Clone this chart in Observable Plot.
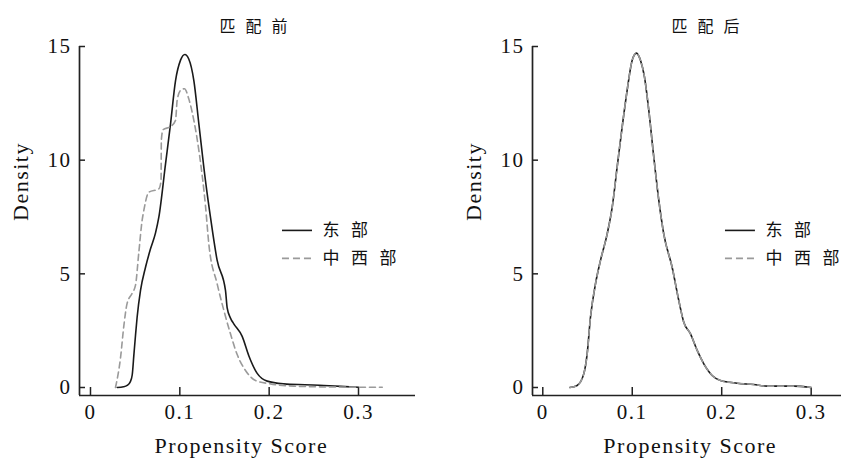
<!DOCTYPE html>
<html><head><meta charset="utf-8">
<script src="https://cdn.jsdelivr.net/npm/d3@7"></script>
<script src="https://cdn.jsdelivr.net/npm/@observablehq/plot@0.6"></script>
<style>
body{margin:0;background:#fff;}
#wrap{display:flex;width:841px;height:459px;overflow:hidden;}
</style></head><body><div id="wrap"></div>
<script>
const panelTitles = ["匹配前", "匹配后"];
const seriesNames = ["东部", "中西部"];
const xTicks = [0, 0.1, 0.2, 0.3];
const yTicks = [0, 5, 10, 15];
const xLabel = "Propensity Score";
const yLabel = "Density";

// 匹配前 — 东部
const beforeEastX = [0.0299,0.037,0.041,0.0445,0.0467,0.0485,0.0504,0.0522,0.056,0.0616,0.0672,0.0728,0.0765,0.084,0.0896,0.0952,0.1008,0.1056,0.110,0.1157,0.1213,0.1287,0.1343,0.1418,0.1511,0.153,0.1567,0.1604,0.1698,0.1772,0.1866,0.1978,0.2164,0.240,0.2612,0.280,0.300];
const beforeEastY = [0,0.03,0.09,0.25,0.55,1.4,2.3,3.09,4.27,5.29,6.1,6.8,7.49,9.84,11.6,13.5,14.4,14.65,14.45,13.5,11.6,9.1,7.49,5.59,4.27,3.5,3.05,2.8,2.25,1.4,0.62,0.28,0.16,0.12,0.09,0.05,0.01];
// 匹配前 — 中西部
const beforeWestX = [0.028,0.0336,0.0373,0.041,0.0467,0.0504,0.054,0.0578,0.0597,0.0653,0.0765,0.079,0.0793,0.0812,0.0896,0.0952,0.097,0.1008,0.1052,0.110,0.1157,0.1213,0.1287,0.1325,0.1418,0.1493,0.1567,0.1642,0.1735,0.1847,0.2015,0.2276,0.2426,0.280,0.3266];
const beforeWestY = [0,1.3,2.7,3.7,4.15,4.5,5.9,7.35,7.79,8.59,8.74,9.1,10.87,11.34,11.48,11.75,12.63,13.07,13.14,12.7,11.75,10.43,8.0,6.3,4.56,3.39,2.36,1.45,0.75,0.31,0.16,0.06,0.04,0.02,0.01];
// 匹配后 — 东部 / 中西部 (overlapping)
const afterEastX = [0.0302,0.0384,0.0458,0.0496,0.0533,0.0589,0.0645,0.072,0.0776,0.0831,0.0887,0.0943,0.0999,0.1047,0.1092,0.1137,0.1185,0.1241,0.1297,0.1352,0.1446,0.152,0.1576,0.1651,0.1726,0.180,0.1893,0.1986,0.2173,0.2358,0.2508,0.2806,0.300];
const afterEastY = [0,0.09,0.6,1.48,3.09,4.56,5.59,6.76,7.93,9.69,11.45,13.07,14.39,14.71,14.39,13.65,12.19,10.13,8.23,6.76,5.29,3.83,2.87,2.36,1.63,1.04,0.53,0.31,0.19,0.13,0.06,0.06,0.0];
const afterWestX = [0.0302,0.0384,0.0458,0.0496,0.0533,0.0589,0.0645,0.072,0.0776,0.0831,0.0887,0.0943,0.0999,0.1047,0.1092,0.1137,0.1185,0.1241,0.1297,0.1352,0.1446,0.152,0.1576,0.1651,0.1726,0.180,0.1893,0.1986,0.2173,0.2358,0.2508,0.2806,0.300];
const afterWestY = [0,0.09,0.6,1.48,3.09,4.56,5.59,6.76,7.93,9.69,11.45,13.07,14.39,14.71,14.39,13.65,12.19,10.13,8.23,6.76,5.29,3.83,2.87,2.36,1.63,1.04,0.53,0.31,0.19,0.13,0.06,0.06,0.0];

const serif = "'Liberation Serif', 'Times New Roman', serif";
const cjk = "'Noto Sans CJK SC', sans-serif";
const eastColor = "#1a1a1a", westColor = "#9a9a9a", axisColor = "#222";

function rows(xs, ys) { return xs.map((x, i) => ({x, y: ys[i]})); }

// spread characters with tspans (no trailing gap)
function spaceOut(el, sp) {
  const chars = [...el.text()];
  el.text(null);
  chars.forEach((c, i) => el.append("tspan").attr("dx", i ? sp : null).text(c));
}

function panel(cfg) {
  const {width, marginLeft, marginRight, xDomain, title, east, west, legend, titleDx, xLabelDx, yLabelDx} = cfg;
  const height = 459, marginTop = 46, marginBottom = 64;
  const yDomain = [-0.352, 15];
  const pxX = (width - marginLeft - marginRight) / (xDomain[1] - xDomain[0]);
  const pxY = (height - marginTop - marginBottom) / (yDomain[1] - yDomain[0]);
  const svg = Plot.plot({
    width, height, marginLeft, marginRight, marginTop, marginBottom,
    x: {domain: xDomain},
    y: {domain: yDomain},
    style: {fontFamily: serif, fontSize: "21px", color: "#111", background: "#fff", overflow: "visible"},
    marks: [
      Plot.axisX({ticks: xTicks, tickSize: 0, tickPadding: 9, label: null, tickFormat: d => String(d)}),
      Plot.axisY({ticks: yTicks, tickSize: 0, tickPadding: 8, label: null, tickFormat: d => String(d)}),
      Plot.ruleX([xDomain[0]], {stroke: axisColor, strokeWidth: 1.7}),
      Plot.ruleY([yDomain[0]], {stroke: axisColor, strokeWidth: 1.7}),
      Plot.ruleY(yTicks, {y: d => d, x1: xDomain[0], x2: xDomain[0] + 6 / pxX, stroke: axisColor, strokeWidth: 1.5}),
      Plot.ruleX(xTicks, {x: d => d, y1: yDomain[0], y2: yDomain[0] + 8 / pxY, stroke: axisColor, strokeWidth: 1.5}),
      Plot.line(east, {x: "x", y: "y", stroke: eastColor, strokeWidth: 1.6, curve: "monotone-x"}),
      Plot.line(west, {x: "x", y: "y", stroke: westColor, strokeWidth: 1.6, strokeDasharray: "6,4", curve: "monotone-x"}),
      Plot.ruleY([legend.y[0]], {x1: legend.x1, x2: legend.x2, stroke: eastColor, strokeWidth: 1.6}),
      Plot.ruleY([legend.y[1]], {x1: legend.x1, x2: legend.x2, stroke: westColor, strokeWidth: 1.6, strokeDasharray: "7,4"}),
      Plot.text(seriesNames, {x: legend.xText, y: (d, i) => legend.y[i], text: d => d, textAnchor: "start", fontFamily: cjk, fontSize: 17, fill: "#111"}),
      Plot.text([title], {text: d => d, frameAnchor: "top", dy: -26, dx: titleDx, fontFamily: cjk, fontSize: 16, fill: "#111"}),
      Plot.text([xLabel], {text: d => d, frameAnchor: "bottom", dy: 57, dx: xLabelDx, fontSize: 22, fill: "#111"}),
      Plot.text([yLabel], {text: d => d, frameAnchor: "left", dx: yLabelDx, rotate: -90, fontSize: 22, fill: "#111"})
    ]
  });
  d3.select(svg).selectAll("text").each(function() {
    const t = this.textContent;
    const el = d3.select(this);
    if (panelTitles.includes(t)) spaceOut(el, 10);
    else if (seriesNames.includes(t)) spaceOut(el, 11.5);
    else if (t === xLabel || t === yLabel) el.style("letter-spacing", "1.5px").style("font-family", serif);
    else el.style("letter-spacing", "1.5px").style("font-size", "21px").style("font-family", serif);
  });
  return svg;
}

const wrap = document.getElementById("wrap");
wrap.appendChild(panel({
  width: 420, marginLeft: 79, marginRight: 5, xDomain: [-0.0123, 0.3638],
  title: panelTitles[0], east: rows(beforeEastX, beforeEastY), west: rows(beforeWestX, beforeWestY),
  legend: {x1: 0.2149, x2: 0.2485, xText: 0.2597, y: [6.91, 5.68]},
  titleDx: 6, xLabelDx: -6.2, yLabelDx: -59
}));
wrap.appendChild(panel({
  width: 421, marginLeft: 112, marginRight: 0, xDomain: [-0.0115, 0.3339],
  title: panelTitles[1], east: rows(afterEastX, afterEastY), west: rows(afterWestX, afterWestY),
  legend: {x1: 0.2042, x2: 0.2377, xText: 0.2489, y: [6.91, 5.68]},
  titleDx: 18.5, xLabelDx: 3.2, yLabelDx: -58.7
}));
</script></body></html>
